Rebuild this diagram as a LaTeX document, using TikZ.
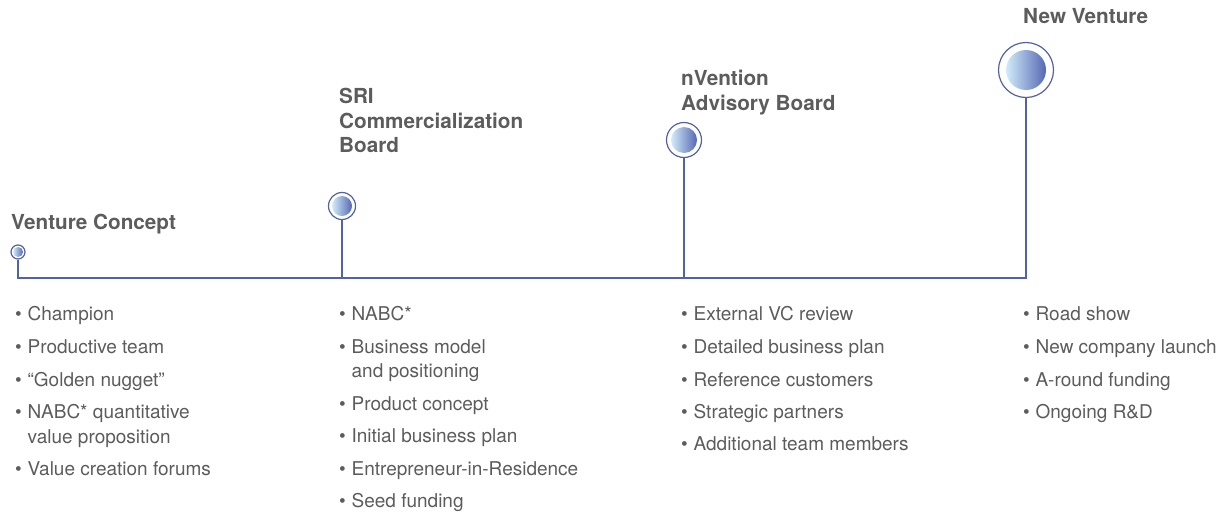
\documentclass[tikz,border=0pt]{standalone}
\usepackage{fontspec}
\setmainfont{TeX Gyre Heros}
\usepackage{xcolor}
\definecolor{trait}{RGB}{84, 98, 160}
\definecolor{gristexte}{RGB}{92, 92, 92}
\definecolor{bleuclair}{RGB}{208, 236, 251}
\definecolor{bleufonce}{RGB}{86, 104, 178}

\newcommand*\puceitem[1]{\textbullet\hspace{6pt}#1}
\newcommand*\suite[1]{\phantom{\textbullet}\hspace{6pt}#1}
\newcommand*\bille[2]{\shade[left color=bleuclair, right color=bleufonce] (#1) circle (#2);}

\tikzset{
  ligne/.style={trait, line width=1.4pt},
  anneau/.style={circle, draw=trait, line width=1.2pt, fill=white, inner sep=0pt},
  titre/.style={anchor=north west, inner sep=0pt, align=left, text=gristexte,
                font=\fontsize{20.7}{24.5}\selectfont\bfseries},
  puce/.style={anchor=base west, inner sep=0pt, text=gristexte,
               font=\fontsize{19}{22}\selectfont},
}

\begin{document}
\begin{tikzpicture}[x=1pt, y=-1pt]
    \useasboundingbox (0,0) rectangle (1230,517);

    % Jalons
    \node[anneau, minimum size=14pt] (c1) at (18,252) {};
    \bille{c1.center}{5pt}
    \node[anneau, minimum size=27pt] (c2) at (342,206) {};
    \bille{c2.center}{10pt}
    \node[anneau, minimum size=35pt] (c3) at (684,140) {};
    \bille{c3.center}{13pt}
    \node[anneau, minimum size=55pt] (c4) at (1026,70) {};
    \bille{c4.center}{20pt}

    % Axe
    \coordinate (b1) at (18,278);
    \coordinate (b4) at (1026,278);
    \draw[ligne] (c1.south) -- (b1) -- (b4) -- (c4.south);
    \draw[ligne] (c2.south) -- (c2 |- b1);
    \draw[ligne] (c3.south) -- (c3 |- b1);

    % Titres
    \node[titre] (t1) at (11,214) {Venture Concept};
    \node[titre] (t2) at (339,88) {SRI\\Commercialization\\Board};
    \node[titre] (t3) at (681,70) {nVention\\Advisory Board};
    \node[titre] (t4) at (1023,8) {New Venture};

    % Listes
    \foreach \y/\t [count=\i] in {320/\puceitem{Champion}, 353/\puceitem{Productive team},
        386/\puceitem{“Golden nugget”}, 418/\puceitem{NABC* quantitative},
        443/\suite{value proposition}, 475/\puceitem{Value creation forums}}
        \node[puce] (l1-\i) at (14.8,\y) {\t};
    \foreach \y/\t [count=\i] in {320/\puceitem{NABC*}, 353/\puceitem{Business model},
        377/\suite{and positioning}, 410/\puceitem{Product concept},
        442/\puceitem{Initial business plan}, 475/\puceitem{Entrepreneur-in-Residence},
        507/\puceitem{Seed funding}}
        \node[puce] (l2-\i) at (338.8,\y) {\t};
    \foreach \y/\t [count=\i] in {320/\puceitem{External VC review}, 353/\puceitem{Detailed business plan},
        386/\puceitem{Reference customers}, 418/\puceitem{Strategic partners},
        450/\puceitem{Additional team members}}
        \node[puce] (l3-\i) at (680.8,\y) {\t};
    \foreach \y/\t [count=\i] in {320/\puceitem{Road show}, 353/\puceitem{New company launch},
        386/\puceitem{A-round funding}, 418/\puceitem{Ongoing R\&D}}
        \node[puce] (l4-\i) at (1022.8,\y) {\t};
\end{tikzpicture}
\end{document}
